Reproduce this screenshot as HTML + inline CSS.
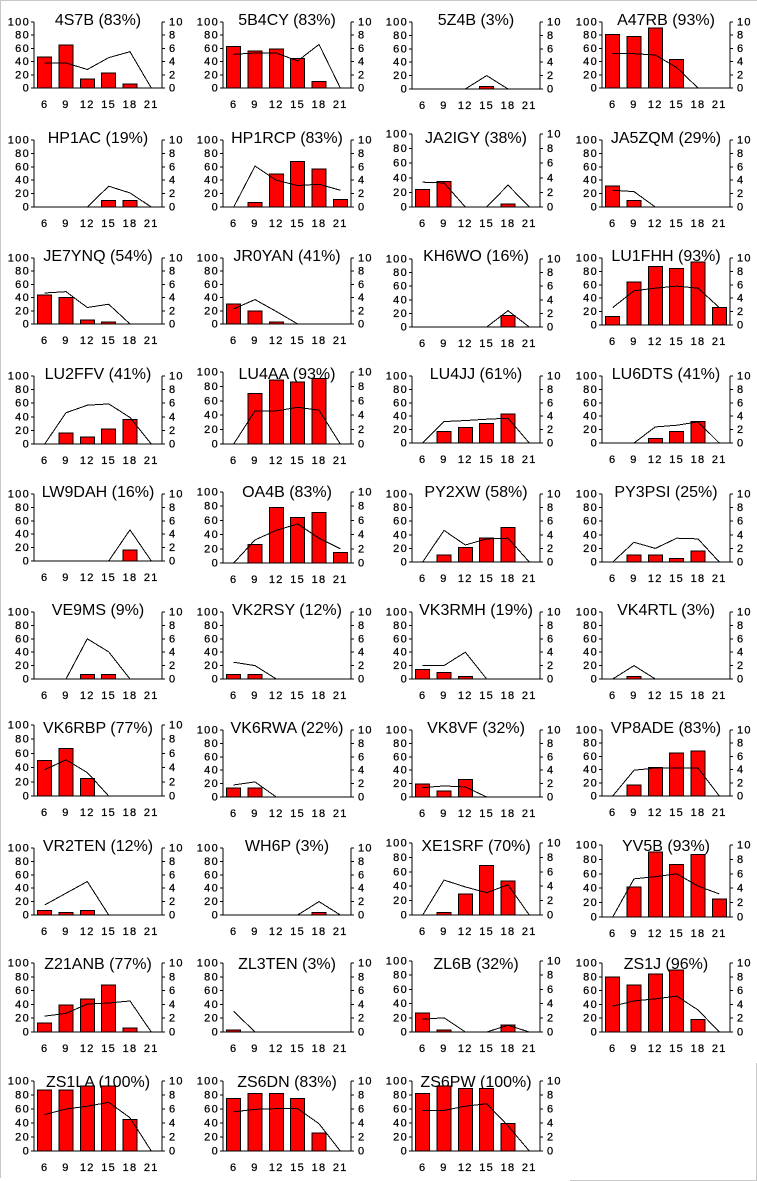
<!DOCTYPE html>
<html><head><meta charset="utf-8"><style>
html,body{margin:0;padding:0;background:#fff;}
svg{display:block;}
text{font-family:"Liberation Sans",Arial,sans-serif;fill:#000;}
.t{font-size:16px;text-anchor:middle;}
.l text,.r text,.x text{font-size:11px;letter-spacing:1.3px;stroke:#000;stroke-width:0.25px;}
.l text{text-anchor:end;}
.x text{text-anchor:middle;}
.d path,.d rect,.d polyline{vector-effect:non-scaling-stroke;shape-rendering:crispEdges;stroke:#000;stroke-width:1;}
.d rect{fill:#f00;}
.d path,.d polyline{fill:none;}
.bd{stroke:#c8c8c8;stroke-width:1;shape-rendering:crispEdges;fill:none;}
</style></head><body>
<svg width="757" height="1181" viewBox="0 0 757 1181" xmlns="http://www.w3.org/2000/svg">
<path class="bd" d="M0 0.5H757M0.5 0V1178M756.5 1063V1180.5M570 1180.5H757"/>

<!-- Row 1 -->
<g transform="translate(0,0)">
<text class="t" x="98" y="25">4S7B (83%)</text>
<g class="l"><text x="30" y="25.5">100</text><text x="30" y="38.7">80</text><text x="30" y="51.9">60</text><text x="30" y="65.1">40</text><text x="30" y="78.3">20</text><text x="30" y="91.5">0</text></g>
<g class="r"><text x="169" y="25.5">10</text><text x="169" y="38.7">8</text><text x="169" y="51.9">6</text><text x="169" y="65.1">4</text><text x="169" y="78.3">2</text><text x="169" y="91.5">0</text></g>
<g class="x" transform="translate(0,108)"><text x="44.7">6</text><text x="66">9</text><text x="87.3">12</text><text x="108.7">15</text><text x="130">18</text><text x="151.3">21</text></g>
<g class="d" transform="translate(0,88) scale(1,-0.66)">
<path d="M34 100V0H162V100M31 0H34M31 20H34M31 40H34M31 60H34M31 80H34M31 100H34M162 0H165M162 20H165M162 40H165M162 60H165M162 80H165M162 100H165"/>
<rect x="37.7" y="0" width="14" height="47"/><rect x="59" y="0" width="14" height="65"/><rect x="80.3" y="0" width="14" height="14"/><rect x="101.7" y="0" width="14" height="23"/><rect x="123" y="0" width="14" height="6"/>
<polyline points="44.7,38 66,38 87.3,28 108.7,46 130,55 151.3,0"/>
</g></g>

<g transform="translate(189,0)">
<text class="t" x="98" y="25">5B4CY (83%)</text>
<g class="l"><text x="30" y="25.5">100</text><text x="30" y="38.7">80</text><text x="30" y="51.9">60</text><text x="30" y="65.1">40</text><text x="30" y="78.3">20</text><text x="30" y="91.5">0</text></g>
<g class="r"><text x="169" y="25.5">10</text><text x="169" y="38.7">8</text><text x="169" y="51.9">6</text><text x="169" y="65.1">4</text><text x="169" y="78.3">2</text><text x="169" y="91.5">0</text></g>
<g class="x" transform="translate(0,108)"><text x="44.7">6</text><text x="66">9</text><text x="87.3">12</text><text x="108.7">15</text><text x="130">18</text><text x="151.3">21</text></g>
<g class="d" transform="translate(0,88) scale(1,-0.66)">
<path d="M34 100V0H162V100M31 0H34M31 20H34M31 40H34M31 60H34M31 80H34M31 100H34M162 0H165M162 20H165M162 40H165M162 60H165M162 80H165M162 100H165"/>
<rect x="37.7" y="0" width="14" height="63"/><rect x="59" y="0" width="14" height="56"/><rect x="80.3" y="0" width="14" height="59"/><rect x="101.7" y="0" width="14" height="45"/><rect x="123" y="0" width="14" height="10"/>
<polyline points="44.7,51 66,53 87.3,53 108.7,41 130,66 151.3,0"/>
</g></g>

<g transform="translate(378,0)">
<text class="t" x="98" y="25">5Z4B (3%)</text>
<g class="l"><text x="30" y="25.5">100</text><text x="30" y="38.9">80</text><text x="30" y="52.3">60</text><text x="30" y="65.7">40</text><text x="30" y="79.1">20</text><text x="30" y="92.5">0</text></g>
<g class="r"><text x="169" y="25.5">10</text><text x="169" y="38.9">8</text><text x="169" y="52.3">6</text><text x="169" y="65.7">4</text><text x="169" y="79.1">2</text><text x="169" y="92.5">0</text></g>
<g class="x" transform="translate(0,109)"><text x="44.7">6</text><text x="66">9</text><text x="87.3">12</text><text x="108.7">15</text><text x="130">18</text><text x="151.3">21</text></g>
<g class="d" transform="translate(0,89) scale(1,-0.67)">
<path d="M34 100V0H162V100M31 0H34M31 20H34M31 40H34M31 60H34M31 80H34M31 100H34M162 0H165M162 20H165M162 40H165M162 60H165M162 80H165M162 100H165"/>
<rect x="101.7" y="0" width="14" height="3.5"/>
<polyline points="44.7,0 66,0 87.3,0 108.7,20 130,0 151.3,0"/>
</g></g>

<g transform="translate(568,0)">
<text class="t" x="98" y="25">A47RB (93%)</text>
<g class="l"><text x="30" y="25.5">100</text><text x="30" y="38.7">80</text><text x="30" y="51.9">60</text><text x="30" y="65.1">40</text><text x="30" y="78.3">20</text><text x="30" y="91.5">0</text></g>
<g class="r"><text x="169" y="25.5">10</text><text x="169" y="38.7">8</text><text x="169" y="51.9">6</text><text x="169" y="65.1">4</text><text x="169" y="78.3">2</text><text x="169" y="91.5">0</text></g>
<g class="x" transform="translate(0,108)"><text x="44.7">6</text><text x="66">9</text><text x="87.3">12</text><text x="108.7">15</text><text x="130">18</text><text x="151.3">21</text></g>
<g class="d" transform="translate(0,88) scale(1,-0.66)">
<path d="M34 100V0H162V100M31 0H34M31 20H34M31 40H34M31 60H34M31 80H34M31 100H34M162 0H165M162 20H165M162 40H165M162 60H165M162 80H165M162 100H165"/>
<rect x="37.7" y="0" width="14" height="81"/><rect x="59" y="0" width="14" height="78"/><rect x="80.3" y="0" width="14" height="91"/><rect x="101.7" y="0" width="14" height="43"/>
<polyline points="44.7,52 66,52 87.3,50 108.7,31 130,0 151.3,0"/>
</g></g>

<!-- Row 2 -->
<g transform="translate(0,118)">
<text class="t" x="98" y="25">HP1AC (19%)</text>
<g class="l"><text x="30" y="25.5">100</text><text x="30" y="38.9">80</text><text x="30" y="52.3">60</text><text x="30" y="65.7">40</text><text x="30" y="79.1">20</text><text x="30" y="92.5">0</text></g>
<g class="r"><text x="169" y="25.5">10</text><text x="169" y="38.9">8</text><text x="169" y="52.3">6</text><text x="169" y="65.7">4</text><text x="169" y="79.1">2</text><text x="169" y="92.5">0</text></g>
<g class="x" transform="translate(0,109)"><text x="44.7">6</text><text x="66">9</text><text x="87.3">12</text><text x="108.7">15</text><text x="130">18</text><text x="151.3">21</text></g>
<g class="d" transform="translate(0,89) scale(1,-0.67)">
<path d="M34 100V0H162V100M31 0H34M31 20H34M31 40H34M31 60H34M31 80H34M31 100H34M162 0H165M162 20H165M162 40H165M162 60H165M162 80H165M162 100H165"/>
<rect x="101.7" y="0" width="14" height="10"/><rect x="123" y="0" width="14" height="10"/>
<polyline points="44.7,0 66,0 87.3,0 108.7,31 130,21 151.3,0"/>
</g></g>

<g transform="translate(189,118)">
<text class="t" x="98" y="25">HP1RCP (83%)</text>
<g class="l"><text x="30" y="25.5">100</text><text x="30" y="38.9">80</text><text x="30" y="52.3">60</text><text x="30" y="65.7">40</text><text x="30" y="79.1">20</text><text x="30" y="92.5">0</text></g>
<g class="r"><text x="169" y="25.5">10</text><text x="169" y="38.9">8</text><text x="169" y="52.3">6</text><text x="169" y="65.7">4</text><text x="169" y="79.1">2</text><text x="169" y="92.5">0</text></g>
<g class="x" transform="translate(0,109)"><text x="44.7">6</text><text x="66">9</text><text x="87.3">12</text><text x="108.7">15</text><text x="130">18</text><text x="151.3">21</text></g>
<g class="d" transform="translate(0,89) scale(1,-0.67)">
<path d="M34 100V0H162V100M31 0H34M31 20H34M31 40H34M31 60H34M31 80H34M31 100H34M162 0H165M162 20H165M162 40H165M162 60H165M162 80H165M162 100H165"/>
<rect x="59" y="0" width="14" height="7"/><rect x="80.3" y="0" width="14" height="49"/><rect x="101.7" y="0" width="14" height="68"/><rect x="123" y="0" width="14" height="57"/><rect x="144.3" y="0" width="14" height="11"/>
<polyline points="44.7,0 66,61 87.3,40 108.7,32 130,34 151.3,25"/>
</g></g>

<g transform="translate(378,118)">
<text class="t" x="98" y="25">JA2IGY (38%)</text>
<g class="l"><text x="30" y="19.5">100</text><text x="30" y="34.1">80</text><text x="30" y="48.7">60</text><text x="30" y="63.3">40</text><text x="30" y="77.9">20</text><text x="30" y="92.5">0</text></g>
<g class="r"><text x="169" y="19.5">10</text><text x="169" y="34.1">8</text><text x="169" y="48.7">6</text><text x="169" y="63.3">4</text><text x="169" y="77.9">2</text><text x="169" y="92.5">0</text></g>
<g class="x" transform="translate(0,109)"><text x="44.7">6</text><text x="66">9</text><text x="87.3">12</text><text x="108.7">15</text><text x="130">18</text><text x="151.3">21</text></g>
<g class="d" transform="translate(0,89) scale(1,-0.73)">
<path d="M34 100V0H162V100M31 0H34M31 20H34M31 40H34M31 60H34M31 80H34M31 100H34M162 0H165M162 20H165M162 40H165M162 60H165M162 80H165M162 100H165"/>
<rect x="37.7" y="0" width="14" height="24"/><rect x="59" y="0" width="14" height="35"/><rect x="123" y="0" width="14" height="4"/>
<polyline points="44.7,34 66,33 87.3,0 108.7,0 130,30 151.3,0"/>
</g></g>

<g transform="translate(568,118)">
<text class="t" x="98" y="25">JA5ZQM (29%)</text>
<g class="l"><text x="30" y="25.5">100</text><text x="30" y="38.9">80</text><text x="30" y="52.3">60</text><text x="30" y="65.7">40</text><text x="30" y="79.1">20</text><text x="30" y="92.5">0</text></g>
<g class="r"><text x="169" y="25.5">10</text><text x="169" y="38.9">8</text><text x="169" y="52.3">6</text><text x="169" y="65.7">4</text><text x="169" y="79.1">2</text><text x="169" y="92.5">0</text></g>
<g class="x" transform="translate(0,109)"><text x="44.7">6</text><text x="66">9</text><text x="87.3">12</text><text x="108.7">15</text><text x="130">18</text><text x="151.3">21</text></g>
<g class="d" transform="translate(0,89) scale(1,-0.67)">
<path d="M34 100V0H162V100M31 0H34M31 20H34M31 40H34M31 60H34M31 80H34M31 100H34M162 0H165M162 20H165M162 40H165M162 60H165M162 80H165M162 100H165"/>
<rect x="37.7" y="0" width="14" height="31"/><rect x="59" y="0" width="14" height="10"/>
<polyline points="44.7,25 66,23 87.3,0 108.7,0 130,0 151.3,0"/>
</g></g>

<!-- Row 3 -->
<g transform="translate(0,236)">
<text class="t" x="98" y="25">JE7YNQ (54%)</text>
<g class="l"><text x="30" y="25.5">100</text><text x="30" y="38.7">80</text><text x="30" y="51.9">60</text><text x="30" y="65.1">40</text><text x="30" y="78.3">20</text><text x="30" y="91.5">0</text></g>
<g class="r"><text x="169" y="25.5">10</text><text x="169" y="38.7">8</text><text x="169" y="51.9">6</text><text x="169" y="65.1">4</text><text x="169" y="78.3">2</text><text x="169" y="91.5">0</text></g>
<g class="x" transform="translate(0,108)"><text x="44.7">6</text><text x="66">9</text><text x="87.3">12</text><text x="108.7">15</text><text x="130">18</text><text x="151.3">21</text></g>
<g class="d" transform="translate(0,88) scale(1,-0.66)">
<path d="M34 100V0H162V100M31 0H34M31 20H34M31 40H34M31 60H34M31 80H34M31 100H34M162 0H165M162 20H165M162 40H165M162 60H165M162 80H165M162 100H165"/>
<rect x="37.7" y="0" width="14" height="44"/><rect x="59" y="0" width="14" height="40"/><rect x="80.3" y="0" width="14" height="6"/><rect x="101.7" y="0" width="14" height="3"/>
<polyline points="44.7,47 66,49 87.3,25 108.7,30 130,0 151.3,0"/>
</g></g>

<g transform="translate(189,236)">
<text class="t" x="98" y="25">JR0YAN (41%)</text>
<g class="l"><text x="30" y="25.5">100</text><text x="30" y="38.7">80</text><text x="30" y="51.9">60</text><text x="30" y="65.1">40</text><text x="30" y="78.3">20</text><text x="30" y="91.5">0</text></g>
<g class="r"><text x="169" y="25.5">10</text><text x="169" y="38.7">8</text><text x="169" y="51.9">6</text><text x="169" y="65.1">4</text><text x="169" y="78.3">2</text><text x="169" y="91.5">0</text></g>
<g class="x" transform="translate(0,108)"><text x="44.7">6</text><text x="66">9</text><text x="87.3">12</text><text x="108.7">15</text><text x="130">18</text><text x="151.3">21</text></g>
<g class="d" transform="translate(0,88) scale(1,-0.66)">
<path d="M34 100V0H162V100M31 0H34M31 20H34M31 40H34M31 60H34M31 80H34M31 100H34M162 0H165M162 20H165M162 40H165M162 60H165M162 80H165M162 100H165"/>
<rect x="37.7" y="0" width="14" height="30"/><rect x="59" y="0" width="14" height="20"/><rect x="80.3" y="0" width="14" height="3"/>
<polyline points="44.7,23 66,37 87.3,19 108.7,0 130,0 151.3,0"/>
</g></g>

<g transform="translate(378,236)">
<text class="t" x="98" y="25">KH6WO (16%)</text>
<g class="l"><text x="30" y="26.5">100</text><text x="30" y="40.1">80</text><text x="30" y="53.7">60</text><text x="30" y="67.3">40</text><text x="30" y="80.9">20</text><text x="30" y="94.5">0</text></g>
<g class="r"><text x="169" y="26.5">10</text><text x="169" y="40.1">8</text><text x="169" y="53.7">6</text><text x="169" y="67.3">4</text><text x="169" y="80.9">2</text><text x="169" y="94.5">0</text></g>
<g class="x" transform="translate(0,111)"><text x="44.7">6</text><text x="66">9</text><text x="87.3">12</text><text x="108.7">15</text><text x="130">18</text><text x="151.3">21</text></g>
<g class="d" transform="translate(0,91) scale(1,-0.68)">
<path d="M34 100V0H162V100M31 0H34M31 20H34M31 40H34M31 60H34M31 80H34M31 100H34M162 0H165M162 20H165M162 40H165M162 60H165M162 80H165M162 100H165"/>
<rect x="123" y="0" width="14" height="17"/>
<polyline points="44.7,0 66,0 87.3,0 108.7,0 130,24 151.3,0"/>
</g></g>

<g transform="translate(568,236)">
<text class="t" x="98" y="25">LU1FHH (93%)</text>
<g class="l"><text x="30" y="25.5">100</text><text x="30" y="38.9">80</text><text x="30" y="52.3">60</text><text x="30" y="65.7">40</text><text x="30" y="79.1">20</text><text x="30" y="92.5">0</text></g>
<g class="r"><text x="169" y="25.5">10</text><text x="169" y="38.9">8</text><text x="169" y="52.3">6</text><text x="169" y="65.7">4</text><text x="169" y="79.1">2</text><text x="169" y="92.5">0</text></g>
<g class="x" transform="translate(0,109)"><text x="44.7">6</text><text x="66">9</text><text x="87.3">12</text><text x="108.7">15</text><text x="130">18</text><text x="151.3">21</text></g>
<g class="d" transform="translate(0,89) scale(1,-0.67)">
<path d="M34 100V0H162V100M31 0H34M31 20H34M31 40H34M31 60H34M31 80H34M31 100H34M162 0H165M162 20H165M162 40H165M162 60H165M162 80H165M162 100H165"/>
<rect x="37.7" y="0" width="14" height="13"/><rect x="59" y="0" width="14" height="64"/><rect x="80.3" y="0" width="14" height="87"/><rect x="101.7" y="0" width="14" height="84"/><rect x="123" y="0" width="14" height="94"/><rect x="144.3" y="0" width="14" height="26"/>
<polyline points="44.7,26 66,51 87.3,55 108.7,58 130,55 151.3,26"/>
</g></g>

<!-- Row 4 -->
<g transform="translate(0,354)">
<text class="t" x="98" y="25">LU2FFV (41%)</text>
<g class="l"><text x="30" y="25.5">100</text><text x="30" y="39.1">80</text><text x="30" y="52.7">60</text><text x="30" y="66.3">40</text><text x="30" y="79.9">20</text><text x="30" y="93.5">0</text></g>
<g class="r"><text x="169" y="25.5">10</text><text x="169" y="39.1">8</text><text x="169" y="52.7">6</text><text x="169" y="66.3">4</text><text x="169" y="79.9">2</text><text x="169" y="93.5">0</text></g>
<g class="x" transform="translate(0,110)"><text x="44.7">6</text><text x="66">9</text><text x="87.3">12</text><text x="108.7">15</text><text x="130">18</text><text x="151.3">21</text></g>
<g class="d" transform="translate(0,90) scale(1,-0.68)">
<path d="M34 100V0H162V100M31 0H34M31 20H34M31 40H34M31 60H34M31 80H34M31 100H34M162 0H165M162 20H165M162 40H165M162 60H165M162 80H165M162 100H165"/>
<rect x="59" y="0" width="14" height="16"/><rect x="80.3" y="0" width="14" height="10"/><rect x="101.7" y="0" width="14" height="22"/><rect x="123" y="0" width="14" height="36"/>
<polyline points="44.7,0 66,46 87.3,57 108.7,59 130,39 151.3,0"/>
</g></g>

<g transform="translate(189,354)">
<text class="t" x="98" y="25">LU4AA (93%)</text>
<g class="l"><text x="30" y="21.5">100</text><text x="30" y="35.9">80</text><text x="30" y="50.3">60</text><text x="30" y="64.7">40</text><text x="30" y="79.1">20</text><text x="30" y="93.5">0</text></g>
<g class="r"><text x="169" y="21.5">10</text><text x="169" y="35.9">8</text><text x="169" y="50.3">6</text><text x="169" y="64.7">4</text><text x="169" y="79.1">2</text><text x="169" y="93.5">0</text></g>
<g class="x" transform="translate(0,110)"><text x="44.7">6</text><text x="66">9</text><text x="87.3">12</text><text x="108.7">15</text><text x="130">18</text><text x="151.3">21</text></g>
<g class="d" transform="translate(0,90) scale(1,-0.72)">
<path d="M34 100V0H162V100M31 0H34M31 20H34M31 40H34M31 60H34M31 80H34M31 100H34M162 0H165M162 20H165M162 40H165M162 60H165M162 80H165M162 100H165"/>
<rect x="59" y="0" width="14" height="70"/><rect x="80.3" y="0" width="14" height="89"/><rect x="101.7" y="0" width="14" height="86"/><rect x="123" y="0" width="14" height="91"/>
<polyline points="44.7,0 66,46 87.3,46 108.7,51 130,47 151.3,0"/>
</g></g>

<g transform="translate(378,354)">
<text class="t" x="98" y="25">LU4JJ (61%)</text>
<g class="l"><text x="30" y="25.5">100</text><text x="30" y="38.9">80</text><text x="30" y="52.3">60</text><text x="30" y="65.7">40</text><text x="30" y="79.1">20</text><text x="30" y="92.5">0</text></g>
<g class="r"><text x="169" y="25.5">10</text><text x="169" y="38.9">8</text><text x="169" y="52.3">6</text><text x="169" y="65.7">4</text><text x="169" y="79.1">2</text><text x="169" y="92.5">0</text></g>
<g class="x" transform="translate(0,109)"><text x="44.7">6</text><text x="66">9</text><text x="87.3">12</text><text x="108.7">15</text><text x="130">18</text><text x="151.3">21</text></g>
<g class="d" transform="translate(0,89) scale(1,-0.67)">
<path d="M34 100V0H162V100M31 0H34M31 20H34M31 40H34M31 60H34M31 80H34M31 100H34M162 0H165M162 20H165M162 40H165M162 60H165M162 80H165M162 100H165"/>
<rect x="59" y="0" width="14" height="17"/><rect x="80.3" y="0" width="14" height="23"/><rect x="101.7" y="0" width="14" height="29"/><rect x="123" y="0" width="14" height="43"/>
<polyline points="44.7,0 66,32 87.3,33.5 108.7,35.5 130,37 151.3,0"/>
</g></g>

<g transform="translate(568,354)">
<text class="t" x="98" y="25">LU6DTS (41%)</text>
<g class="l"><text x="30" y="25.5">100</text><text x="30" y="38.9">80</text><text x="30" y="52.3">60</text><text x="30" y="65.7">40</text><text x="30" y="79.1">20</text><text x="30" y="92.5">0</text></g>
<g class="r"><text x="169" y="25.5">10</text><text x="169" y="38.9">8</text><text x="169" y="52.3">6</text><text x="169" y="65.7">4</text><text x="169" y="79.1">2</text><text x="169" y="92.5">0</text></g>
<g class="x" transform="translate(0,109)"><text x="44.7">6</text><text x="66">9</text><text x="87.3">12</text><text x="108.7">15</text><text x="130">18</text><text x="151.3">21</text></g>
<g class="d" transform="translate(0,89) scale(1,-0.67)">
<path d="M34 100V0H162V100M31 0H34M31 20H34M31 40H34M31 60H34M31 80H34M31 100H34M162 0H165M162 20H165M162 40H165M162 60H165M162 80H165M162 100H165"/>
<rect x="80.3" y="0" width="14" height="6.5"/><rect x="101.7" y="0" width="14" height="17"/><rect x="123" y="0" width="14" height="32"/>
<polyline points="44.7,0 66,0 87.3,24 108.7,26.5 130,31.5 151.3,0"/>
</g></g>

<!-- Row 5 -->
<g transform="translate(0,472)">
<text class="t" x="98" y="25">LW9DAH (16%)</text>
<g class="l"><text x="30" y="25.5">100</text><text x="30" y="38.9">80</text><text x="30" y="52.3">60</text><text x="30" y="65.7">40</text><text x="30" y="79.1">20</text><text x="30" y="92.5">0</text></g>
<g class="r"><text x="169" y="25.5">10</text><text x="169" y="38.9">8</text><text x="169" y="52.3">6</text><text x="169" y="65.7">4</text><text x="169" y="79.1">2</text><text x="169" y="92.5">0</text></g>
<g class="x" transform="translate(0,109)"><text x="44.7">6</text><text x="66">9</text><text x="87.3">12</text><text x="108.7">15</text><text x="130">18</text><text x="151.3">21</text></g>
<g class="d" transform="translate(0,89) scale(1,-0.67)">
<path d="M34 100V0H162V100M31 0H34M31 20H34M31 40H34M31 60H34M31 80H34M31 100H34M162 0H165M162 20H165M162 40H165M162 60H165M162 80H165M162 100H165"/>
<rect x="123" y="0" width="14" height="16.5"/>
<polyline points="44.7,0 66,0 87.3,0 108.7,0 130,46.5 151.3,0"/>
</g></g>

<g transform="translate(189,472)">
<text class="t" x="98" y="25">OA4B (83%)</text>
<g class="l"><text x="30" y="23.5">100</text><text x="30" y="37.7">80</text><text x="30" y="51.9">60</text><text x="30" y="66.1">40</text><text x="30" y="80.3">20</text><text x="30" y="94.5">0</text></g>
<g class="r"><text x="169" y="23.5">10</text><text x="169" y="37.7">8</text><text x="169" y="51.9">6</text><text x="169" y="66.1">4</text><text x="169" y="80.3">2</text><text x="169" y="94.5">0</text></g>
<g class="x" transform="translate(0,111)"><text x="44.7">6</text><text x="66">9</text><text x="87.3">12</text><text x="108.7">15</text><text x="130">18</text><text x="151.3">21</text></g>
<g class="d" transform="translate(0,91) scale(1,-0.71)">
<path d="M34 100V0H162V100M31 0H34M31 20H34M31 40H34M31 60H34M31 80H34M31 100H34M162 0H165M162 20H165M162 40H165M162 60H165M162 80H165M162 100H165"/>
<rect x="59" y="0" width="14" height="26"/><rect x="80.3" y="0" width="14" height="78"/><rect x="101.7" y="0" width="14" height="64"/><rect x="123" y="0" width="14" height="71"/><rect x="144.3" y="0" width="14" height="15"/>
<polyline points="44.7,0 66,32.5 87.3,46 108.7,55 130,35 151.3,20"/>
</g></g>

<g transform="translate(378,472)">
<text class="t" x="98" y="25">PY2XW (58%)</text>
<g class="l"><text x="30" y="25.5">100</text><text x="30" y="39.1">80</text><text x="30" y="52.7">60</text><text x="30" y="66.3">40</text><text x="30" y="79.9">20</text><text x="30" y="93.5">0</text></g>
<g class="r"><text x="169" y="25.5">10</text><text x="169" y="39.1">8</text><text x="169" y="52.7">6</text><text x="169" y="66.3">4</text><text x="169" y="79.9">2</text><text x="169" y="93.5">0</text></g>
<g class="x" transform="translate(0,110)"><text x="44.7">6</text><text x="66">9</text><text x="87.3">12</text><text x="108.7">15</text><text x="130">18</text><text x="151.3">21</text></g>
<g class="d" transform="translate(0,90) scale(1,-0.68)">
<path d="M34 100V0H162V100M31 0H34M31 20H34M31 40H34M31 60H34M31 80H34M31 100H34M162 0H165M162 20H165M162 40H165M162 60H165M162 80H165M162 100H165"/>
<rect x="59" y="0" width="14" height="10"/><rect x="80.3" y="0" width="14" height="21"/><rect x="101.7" y="0" width="14" height="35"/><rect x="123" y="0" width="14" height="51"/>
<polyline points="44.7,0 66,46.5 87.3,25 108.7,34 130,35 151.3,0"/>
</g></g>

<g transform="translate(568,472)">
<text class="t" x="98" y="25">PY3PSI (25%)</text>
<g class="l"><text x="30" y="25.5">100</text><text x="30" y="39.1">80</text><text x="30" y="52.7">60</text><text x="30" y="66.3">40</text><text x="30" y="79.9">20</text><text x="30" y="93.5">0</text></g>
<g class="r"><text x="169" y="25.5">10</text><text x="169" y="39.1">8</text><text x="169" y="52.7">6</text><text x="169" y="66.3">4</text><text x="169" y="79.9">2</text><text x="169" y="93.5">0</text></g>
<g class="x" transform="translate(0,110)"><text x="44.7">6</text><text x="66">9</text><text x="87.3">12</text><text x="108.7">15</text><text x="130">18</text><text x="151.3">21</text></g>
<g class="d" transform="translate(0,90) scale(1,-0.68)">
<path d="M34 100V0H162V100M31 0H34M31 20H34M31 40H34M31 60H34M31 80H34M31 100H34M162 0H165M162 20H165M162 40H165M162 60H165M162 80H165M162 100H165"/>
<rect x="59" y="0" width="14" height="10"/><rect x="80.3" y="0" width="14" height="10"/><rect x="101.7" y="0" width="14" height="5.5"/><rect x="123" y="0" width="14" height="16"/>
<polyline points="44.7,0 66,29 87.3,20 108.7,35 130,34 151.3,0"/>
</g></g>

<!-- Row 6 -->
<g transform="translate(0,590)">
<text class="t" x="98" y="25">VE9MS (9%)</text>
<g class="l"><text x="30" y="25.5">100</text><text x="30" y="38.9">80</text><text x="30" y="52.3">60</text><text x="30" y="65.7">40</text><text x="30" y="79.1">20</text><text x="30" y="92.5">0</text></g>
<g class="r"><text x="169" y="25.5">10</text><text x="169" y="38.9">8</text><text x="169" y="52.3">6</text><text x="169" y="65.7">4</text><text x="169" y="79.1">2</text><text x="169" y="92.5">0</text></g>
<g class="x" transform="translate(0,109)"><text x="44.7">6</text><text x="66">9</text><text x="87.3">12</text><text x="108.7">15</text><text x="130">18</text><text x="151.3">21</text></g>
<g class="d" transform="translate(0,89) scale(1,-0.67)">
<path d="M34 100V0H162V100M31 0H34M31 20H34M31 40H34M31 60H34M31 80H34M31 100H34M162 0H165M162 20H165M162 40H165M162 60H165M162 80H165M162 100H165"/>
<rect x="80.3" y="0" width="14" height="6.5"/><rect x="101.7" y="0" width="14" height="6.5"/>
<polyline points="44.7,0 66,0 87.3,60 108.7,40.5 130,0 151.3,0"/>
</g></g>

<g transform="translate(189,590)">
<text class="t" x="98" y="25">VK2RSY (12%)</text>
<g class="l"><text x="30" y="25.5">100</text><text x="30" y="38.9">80</text><text x="30" y="52.3">60</text><text x="30" y="65.7">40</text><text x="30" y="79.1">20</text><text x="30" y="92.5">0</text></g>
<g class="r"><text x="169" y="25.5">10</text><text x="169" y="38.9">8</text><text x="169" y="52.3">6</text><text x="169" y="65.7">4</text><text x="169" y="79.1">2</text><text x="169" y="92.5">0</text></g>
<g class="x" transform="translate(0,109)"><text x="44.7">6</text><text x="66">9</text><text x="87.3">12</text><text x="108.7">15</text><text x="130">18</text><text x="151.3">21</text></g>
<g class="d" transform="translate(0,89) scale(1,-0.67)">
<path d="M34 100V0H162V100M31 0H34M31 20H34M31 40H34M31 60H34M31 80H34M31 100H34M162 0H165M162 20H165M162 40H165M162 60H165M162 80H165M162 100H165"/>
<rect x="37.7" y="0" width="14" height="6.5"/><rect x="59" y="0" width="14" height="6.5"/>
<polyline points="44.7,25 66,20 87.3,0 108.7,0 130,0 151.3,0"/>
</g></g>

<g transform="translate(378,590)">
<text class="t" x="98" y="25">VK3RMH (19%)</text>
<g class="l"><text x="30" y="25.5">100</text><text x="30" y="38.9">80</text><text x="30" y="52.3">60</text><text x="30" y="65.7">40</text><text x="30" y="79.1">20</text><text x="30" y="92.5">0</text></g>
<g class="r"><text x="169" y="25.5">10</text><text x="169" y="38.9">8</text><text x="169" y="52.3">6</text><text x="169" y="65.7">4</text><text x="169" y="79.1">2</text><text x="169" y="92.5">0</text></g>
<g class="x" transform="translate(0,109)"><text x="44.7">6</text><text x="66">9</text><text x="87.3">12</text><text x="108.7">15</text><text x="130">18</text><text x="151.3">21</text></g>
<g class="d" transform="translate(0,89) scale(1,-0.67)">
<path d="M34 100V0H162V100M31 0H34M31 20H34M31 40H34M31 60H34M31 80H34M31 100H34M162 0H165M162 20H165M162 40H165M162 60H165M162 80H165M162 100H165"/>
<rect x="37.7" y="0" width="14" height="14"/><rect x="59" y="0" width="14" height="9.5"/><rect x="80.3" y="0" width="14" height="3.5"/>
<polyline points="44.7,20 66,20 87.3,40 108.7,0 130,0 151.3,0"/>
</g></g>

<g transform="translate(568,590)">
<text class="t" x="98" y="25">VK4RTL (3%)</text>
<g class="l"><text x="30" y="25.5">100</text><text x="30" y="38.9">80</text><text x="30" y="52.3">60</text><text x="30" y="65.7">40</text><text x="30" y="79.1">20</text><text x="30" y="92.5">0</text></g>
<g class="r"><text x="169" y="25.5">10</text><text x="169" y="38.9">8</text><text x="169" y="52.3">6</text><text x="169" y="65.7">4</text><text x="169" y="79.1">2</text><text x="169" y="92.5">0</text></g>
<g class="x" transform="translate(0,109)"><text x="44.7">6</text><text x="66">9</text><text x="87.3">12</text><text x="108.7">15</text><text x="130">18</text><text x="151.3">21</text></g>
<g class="d" transform="translate(0,89) scale(1,-0.67)">
<path d="M34 100V0H162V100M31 0H34M31 20H34M31 40H34M31 60H34M31 80H34M31 100H34M162 0H165M162 20H165M162 40H165M162 60H165M162 80H165M162 100H165"/>
<rect x="59" y="0" width="14" height="3.5"/>
<polyline points="44.7,0 66,20 87.3,0 108.7,0 130,0 151.3,0"/>
</g></g>

<!-- Row 7 -->
<g transform="translate(0,708)">
<text class="t" x="98" y="25">VK6RBP (77%)</text>
<g class="l"><text x="30" y="20.5">100</text><text x="30" y="34.7">80</text><text x="30" y="48.9">60</text><text x="30" y="63.1">40</text><text x="30" y="77.3">20</text><text x="30" y="91.5">0</text></g>
<g class="r"><text x="169" y="20.5">10</text><text x="169" y="34.7">8</text><text x="169" y="48.9">6</text><text x="169" y="63.1">4</text><text x="169" y="77.3">2</text><text x="169" y="91.5">0</text></g>
<g class="x" transform="translate(0,108)"><text x="44.7">6</text><text x="66">9</text><text x="87.3">12</text><text x="108.7">15</text><text x="130">18</text><text x="151.3">21</text></g>
<g class="d" transform="translate(0,88) scale(1,-0.71)">
<path d="M34 100V0H162V100M31 0H34M31 20H34M31 40H34M31 60H34M31 80H34M31 100H34M162 0H165M162 20H165M162 40H165M162 60H165M162 80H165M162 100H165"/>
<rect x="37.7" y="0" width="14" height="50"/><rect x="59" y="0" width="14" height="67"/><rect x="80.3" y="0" width="14" height="25"/>
<polyline points="44.7,37 66,51 87.3,33 108.7,0 130,0 151.3,0"/>
</g></g>

<g transform="translate(189,708)">
<text class="t" x="98" y="25">VK6RWA (22%)</text>
<g class="l"><text x="30" y="25.5">100</text><text x="30" y="38.9">80</text><text x="30" y="52.3">60</text><text x="30" y="65.7">40</text><text x="30" y="79.1">20</text><text x="30" y="92.5">0</text></g>
<g class="r"><text x="169" y="25.5">10</text><text x="169" y="38.9">8</text><text x="169" y="52.3">6</text><text x="169" y="65.7">4</text><text x="169" y="79.1">2</text><text x="169" y="92.5">0</text></g>
<g class="x" transform="translate(0,109)"><text x="44.7">6</text><text x="66">9</text><text x="87.3">12</text><text x="108.7">15</text><text x="130">18</text><text x="151.3">21</text></g>
<g class="d" transform="translate(0,89) scale(1,-0.67)">
<path d="M34 100V0H162V100M31 0H34M31 20H34M31 40H34M31 60H34M31 80H34M31 100H34M162 0H165M162 20H165M162 40H165M162 60H165M162 80H165M162 100H165"/>
<rect x="37.7" y="0" width="14" height="13.5"/><rect x="59" y="0" width="14" height="13.5"/>
<polyline points="44.7,18 66,22.5 87.3,0 108.7,0 130,0 151.3,0"/>
</g></g>

<g transform="translate(378,708)">
<text class="t" x="98" y="25">VK8VF (32%)</text>
<g class="l"><text x="30" y="25.5">100</text><text x="30" y="38.9">80</text><text x="30" y="52.3">60</text><text x="30" y="65.7">40</text><text x="30" y="79.1">20</text><text x="30" y="92.5">0</text></g>
<g class="r"><text x="169" y="25.5">10</text><text x="169" y="38.9">8</text><text x="169" y="52.3">6</text><text x="169" y="65.7">4</text><text x="169" y="79.1">2</text><text x="169" y="92.5">0</text></g>
<g class="x" transform="translate(0,109)"><text x="44.7">6</text><text x="66">9</text><text x="87.3">12</text><text x="108.7">15</text><text x="130">18</text><text x="151.3">21</text></g>
<g class="d" transform="translate(0,89) scale(1,-0.67)">
<path d="M34 100V0H162V100M31 0H34M31 20H34M31 40H34M31 60H34M31 80H34M31 100H34M162 0H165M162 20H165M162 40H165M162 60H165M162 80H165M162 100H165"/>
<rect x="37.7" y="0" width="14" height="19.5"/><rect x="59" y="0" width="14" height="9"/><rect x="80.3" y="0" width="14" height="26"/>
<polyline points="44.7,14 66,16.5 87.3,15 108.7,0 130,0 151.3,0"/>
</g></g>

<g transform="translate(568,708)">
<text class="t" x="98" y="25">VP8ADE (83%)</text>
<g class="l"><text x="30" y="25.5">100</text><text x="30" y="38.7">80</text><text x="30" y="51.9">60</text><text x="30" y="65.1">40</text><text x="30" y="78.3">20</text><text x="30" y="91.5">0</text></g>
<g class="r"><text x="169" y="25.5">10</text><text x="169" y="38.7">8</text><text x="169" y="51.9">6</text><text x="169" y="65.1">4</text><text x="169" y="78.3">2</text><text x="169" y="91.5">0</text></g>
<g class="x" transform="translate(0,108)"><text x="44.7">6</text><text x="66">9</text><text x="87.3">12</text><text x="108.7">15</text><text x="130">18</text><text x="151.3">21</text></g>
<g class="d" transform="translate(0,88) scale(1,-0.66)">
<path d="M34 100V0H162V100M31 0H34M31 20H34M31 40H34M31 60H34M31 80H34M31 100H34M162 0H165M162 20H165M162 40H165M162 60H165M162 80H165M162 100H165"/>
<rect x="59" y="0" width="14" height="17"/><rect x="80.3" y="0" width="14" height="43"/><rect x="101.7" y="0" width="14" height="65"/><rect x="123" y="0" width="14" height="68"/>
<polyline points="44.7,0 66,39 87.3,42.5 108.7,42.5 130,42.5 151.3,0"/>
</g></g>

<!-- Row 8 -->
<g transform="translate(0,826)">
<text class="t" x="98" y="25">VR2TEN (12%)</text>
<g class="l"><text x="30" y="25.5">100</text><text x="30" y="38.9">80</text><text x="30" y="52.3">60</text><text x="30" y="65.7">40</text><text x="30" y="79.1">20</text><text x="30" y="92.5">0</text></g>
<g class="r"><text x="169" y="25.5">10</text><text x="169" y="38.9">8</text><text x="169" y="52.3">6</text><text x="169" y="65.7">4</text><text x="169" y="79.1">2</text><text x="169" y="92.5">0</text></g>
<g class="x" transform="translate(0,109)"><text x="44.7">6</text><text x="66">9</text><text x="87.3">12</text><text x="108.7">15</text><text x="130">18</text><text x="151.3">21</text></g>
<g class="d" transform="translate(0,89) scale(1,-0.67)">
<path d="M34 100V0H162V100M31 0H34M31 20H34M31 40H34M31 60H34M31 80H34M31 100H34M162 0H165M162 20H165M162 40H165M162 60H165M162 80H165M162 100H165"/>
<rect x="37.7" y="0" width="14" height="7"/><rect x="59" y="0" width="14" height="4"/><rect x="80.3" y="0" width="14" height="7"/>
<polyline points="44.7,15 66,32.5 87.3,50 108.7,0 130,0 151.3,0"/>
</g></g>

<g transform="translate(189,826)">
<text class="t" x="98" y="25">WH6P (3%)</text>
<g class="l"><text x="30" y="25.5">100</text><text x="30" y="38.9">80</text><text x="30" y="52.3">60</text><text x="30" y="65.7">40</text><text x="30" y="79.1">20</text><text x="30" y="92.5">0</text></g>
<g class="r"><text x="169" y="25.5">10</text><text x="169" y="38.9">8</text><text x="169" y="52.3">6</text><text x="169" y="65.7">4</text><text x="169" y="79.1">2</text><text x="169" y="92.5">0</text></g>
<g class="x" transform="translate(0,109)"><text x="44.7">6</text><text x="66">9</text><text x="87.3">12</text><text x="108.7">15</text><text x="130">18</text><text x="151.3">21</text></g>
<g class="d" transform="translate(0,89) scale(1,-0.67)">
<path d="M34 100V0H162V100M31 0H34M31 20H34M31 40H34M31 60H34M31 80H34M31 100H34M162 0H165M162 20H165M162 40H165M162 60H165M162 80H165M162 100H165"/>
<rect x="123" y="0" width="14" height="4"/>
<polyline points="44.7,0 66,0 87.3,0 108.7,0 130,20 151.3,0"/>
</g></g>

<g transform="translate(378,826)">
<text class="t" x="98" y="25">XE1SRF (70%)</text>
<g class="l"><text x="30" y="20.5">100</text><text x="30" y="34.9">80</text><text x="30" y="49.3">60</text><text x="30" y="63.7">40</text><text x="30" y="78.1">20</text><text x="30" y="92.5">0</text></g>
<g class="r"><text x="169" y="20.5">10</text><text x="169" y="34.9">8</text><text x="169" y="49.3">6</text><text x="169" y="63.7">4</text><text x="169" y="78.1">2</text><text x="169" y="92.5">0</text></g>
<g class="x" transform="translate(0,109)"><text x="44.7">6</text><text x="66">9</text><text x="87.3">12</text><text x="108.7">15</text><text x="130">18</text><text x="151.3">21</text></g>
<g class="d" transform="translate(0,89) scale(1,-0.72)">
<path d="M34 100V0H162V100M31 0H34M31 20H34M31 40H34M31 60H34M31 80H34M31 100H34M162 0H165M162 20H165M162 40H165M162 60H165M162 80H165M162 100H165"/>
<rect x="59" y="0" width="14" height="3.7"/><rect x="80.3" y="0" width="14" height="29"/><rect x="101.7" y="0" width="14" height="69"/><rect x="123" y="0" width="14" height="47"/>
<polyline points="44.7,0 66,48.5 87.3,39 108.7,31 130,42 151.3,0"/>
</g></g>

<g transform="translate(568,826)">
<text class="t" x="98" y="25">YV5B (93%)</text>
<g class="l"><text x="30" y="22.5">100</text><text x="30" y="36.9">80</text><text x="30" y="51.3">60</text><text x="30" y="65.7">40</text><text x="30" y="80.1">20</text><text x="30" y="94.5">0</text></g>
<g class="r"><text x="169" y="22.5">10</text><text x="169" y="36.9">8</text><text x="169" y="51.3">6</text><text x="169" y="65.7">4</text><text x="169" y="80.1">2</text><text x="169" y="94.5">0</text></g>
<g class="x" transform="translate(0,111)"><text x="44.7">6</text><text x="66">9</text><text x="87.3">12</text><text x="108.7">15</text><text x="130">18</text><text x="151.3">21</text></g>
<g class="d" transform="translate(0,91) scale(1,-0.72)">
<path d="M34 100V0H162V100M31 0H34M31 20H34M31 40H34M31 60H34M31 80H34M31 100H34M162 0H165M162 20H165M162 40H165M162 60H165M162 80H165M162 100H165"/>
<rect x="59" y="0" width="14" height="42"/><rect x="80.3" y="0" width="14" height="90"/><rect x="101.7" y="0" width="14" height="73"/><rect x="123" y="0" width="14" height="87"/><rect x="144.3" y="0" width="14" height="25"/>
<polyline points="44.7,0 66,53 87.3,56 108.7,60 130,43 151.3,32"/>
</g></g>

<!-- Row 9 -->
<g transform="translate(0,944)">
<text class="t" x="98" y="25">Z21ANB (77%)</text>
<g class="l"><text x="30" y="22.5">100</text><text x="30" y="36.3">80</text><text x="30" y="50.1">60</text><text x="30" y="63.9">40</text><text x="30" y="77.7">20</text><text x="30" y="91.5">0</text></g>
<g class="r"><text x="169" y="22.5">10</text><text x="169" y="36.3">8</text><text x="169" y="50.1">6</text><text x="169" y="63.9">4</text><text x="169" y="77.7">2</text><text x="169" y="91.5">0</text></g>
<g class="x" transform="translate(0,108)"><text x="44.7">6</text><text x="66">9</text><text x="87.3">12</text><text x="108.7">15</text><text x="130">18</text><text x="151.3">21</text></g>
<g class="d" transform="translate(0,88) scale(1,-0.69)">
<path d="M34 100V0H162V100M31 0H34M31 20H34M31 40H34M31 60H34M31 80H34M31 100H34M162 0H165M162 20H165M162 40H165M162 60H165M162 80H165M162 100H165"/>
<rect x="37.7" y="0" width="14" height="13"/><rect x="59" y="0" width="14" height="39"/><rect x="80.3" y="0" width="14" height="48"/><rect x="101.7" y="0" width="14" height="68"/><rect x="123" y="0" width="14" height="6"/>
<polyline points="44.7,23 66,27 87.3,40.5 108.7,42 130,45 151.3,0"/>
</g></g>

<g transform="translate(189,944)">
<text class="t" x="98" y="25">ZL3TEN (3%)</text>
<g class="l"><text x="30" y="22.5">100</text><text x="30" y="36.3">80</text><text x="30" y="50.1">60</text><text x="30" y="63.9">40</text><text x="30" y="77.7">20</text><text x="30" y="91.5">0</text></g>
<g class="r"><text x="169" y="22.5">10</text><text x="169" y="36.3">8</text><text x="169" y="50.1">6</text><text x="169" y="63.9">4</text><text x="169" y="77.7">2</text><text x="169" y="91.5">0</text></g>
<g class="x" transform="translate(0,108)"><text x="44.7">6</text><text x="66">9</text><text x="87.3">12</text><text x="108.7">15</text><text x="130">18</text><text x="151.3">21</text></g>
<g class="d" transform="translate(0,88) scale(1,-0.69)">
<path d="M34 100V0H162V100M31 0H34M31 20H34M31 40H34M31 60H34M31 80H34M31 100H34M162 0H165M162 20H165M162 40H165M162 60H165M162 80H165M162 100H165"/>
<rect x="37.7" y="0" width="14" height="3"/>
<polyline points="44.7,30 66,0 87.3,0 108.7,0 130,0 151.3,0"/>
</g></g>

<g transform="translate(378,944)">
<text class="t" x="98" y="25">ZL6B (32%)</text>
<g class="l"><text x="30" y="20.5">100</text><text x="30" y="34.7">80</text><text x="30" y="48.9">60</text><text x="30" y="63.1">40</text><text x="30" y="77.3">20</text><text x="30" y="91.5">0</text></g>
<g class="r"><text x="169" y="20.5">10</text><text x="169" y="34.7">8</text><text x="169" y="48.9">6</text><text x="169" y="63.1">4</text><text x="169" y="77.3">2</text><text x="169" y="91.5">0</text></g>
<g class="x" transform="translate(0,108)"><text x="44.7">6</text><text x="66">9</text><text x="87.3">12</text><text x="108.7">15</text><text x="130">18</text><text x="151.3">21</text></g>
<g class="d" transform="translate(0,88) scale(1,-0.71)">
<path d="M34 100V0H162V100M31 0H34M31 20H34M31 40H34M31 60H34M31 80H34M31 100H34M162 0H165M162 20H165M162 40H165M162 60H165M162 80H165M162 100H165"/>
<rect x="37.7" y="0" width="14" height="27"/><rect x="59" y="0" width="14" height="3"/><rect x="123" y="0" width="14" height="10"/>
<polyline points="44.7,18 66,20 87.3,0 108.7,0 130,9.5 151.3,0"/>
</g></g>

<g transform="translate(568,944)">
<text class="t" x="98" y="25">ZS1J (96%)</text>
<g class="l"><text x="30" y="22.5">100</text><text x="30" y="36.3">80</text><text x="30" y="50.1">60</text><text x="30" y="63.9">40</text><text x="30" y="77.7">20</text><text x="30" y="91.5">0</text></g>
<g class="r"><text x="169" y="22.5">10</text><text x="169" y="36.3">8</text><text x="169" y="50.1">6</text><text x="169" y="63.9">4</text><text x="169" y="77.7">2</text><text x="169" y="91.5">0</text></g>
<g class="x" transform="translate(0,108)"><text x="44.7">6</text><text x="66">9</text><text x="87.3">12</text><text x="108.7">15</text><text x="130">18</text><text x="151.3">21</text></g>
<g class="d" transform="translate(0,88) scale(1,-0.69)">
<path d="M34 100V0H162V100M31 0H34M31 20H34M31 40H34M31 60H34M31 80H34M31 100H34M162 0H165M162 20H165M162 40H165M162 60H165M162 80H165M162 100H165"/>
<rect x="37.7" y="0" width="14" height="80"/><rect x="59" y="0" width="14" height="68"/><rect x="80.3" y="0" width="14" height="84"/><rect x="101.7" y="0" width="14" height="90"/><rect x="123" y="0" width="14" height="18"/>
<polyline points="44.7,37.5 66,45 87.3,48 108.7,52 130,32 151.3,0"/>
</g></g>

<!-- Row 10 -->
<g transform="translate(0,1062)">
<text class="t" x="98" y="25">ZS1LA (100%)</text>
<g class="l"><text x="30" y="22.5">100</text><text x="30" y="36.5">80</text><text x="30" y="50.5">60</text><text x="30" y="64.5">40</text><text x="30" y="78.5">20</text><text x="30" y="92.5">0</text></g>
<g class="r"><text x="169" y="22.5">10</text><text x="169" y="36.5">8</text><text x="169" y="50.5">6</text><text x="169" y="64.5">4</text><text x="169" y="78.5">2</text><text x="169" y="92.5">0</text></g>
<g class="x" transform="translate(0,109)"><text x="44.7">6</text><text x="66">9</text><text x="87.3">12</text><text x="108.7">15</text><text x="130">18</text><text x="151.3">21</text></g>
<g class="d" transform="translate(0,89) scale(1,-0.70)">
<path d="M34 100V0H162V100M31 0H34M31 20H34M31 40H34M31 60H34M31 80H34M31 100H34M162 0H165M162 20H165M162 40H165M162 60H165M162 80H165M162 100H165"/>
<rect x="37.7" y="0" width="14" height="87"/><rect x="59" y="0" width="14" height="87"/><rect x="80.3" y="0" width="14" height="93"/><rect x="101.7" y="0" width="14" height="93"/><rect x="123" y="0" width="14" height="45"/>
<polyline points="44.7,52 66,60 87.3,64 108.7,69.5 130,47.5 151.3,0"/>
</g></g>

<g transform="translate(189,1062)">
<text class="t" x="98" y="25">ZS6DN (83%)</text>
<g class="l"><text x="30" y="22.5">100</text><text x="30" y="36.5">80</text><text x="30" y="50.5">60</text><text x="30" y="64.5">40</text><text x="30" y="78.5">20</text><text x="30" y="92.5">0</text></g>
<g class="r"><text x="169" y="22.5">10</text><text x="169" y="36.5">8</text><text x="169" y="50.5">6</text><text x="169" y="64.5">4</text><text x="169" y="78.5">2</text><text x="169" y="92.5">0</text></g>
<g class="x" transform="translate(0,109)"><text x="44.7">6</text><text x="66">9</text><text x="87.3">12</text><text x="108.7">15</text><text x="130">18</text><text x="151.3">21</text></g>
<g class="d" transform="translate(0,89) scale(1,-0.70)">
<path d="M34 100V0H162V100M31 0H34M31 20H34M31 40H34M31 60H34M31 80H34M31 100H34M162 0H165M162 20H165M162 40H165M162 60H165M162 80H165M162 100H165"/>
<rect x="37.7" y="0" width="14" height="75"/><rect x="59" y="0" width="14" height="82"/><rect x="80.3" y="0" width="14" height="82"/><rect x="101.7" y="0" width="14" height="75"/><rect x="123" y="0" width="14" height="26"/>
<polyline points="44.7,56 66,59.5 87.3,60.5 108.7,60.5 130,39 151.3,0"/>
</g></g>

<g transform="translate(378,1062)">
<text class="t" x="98" y="25">ZS6PW (100%)</text>
<g class="l"><text x="30" y="22.5">100</text><text x="30" y="36.5">80</text><text x="30" y="50.5">60</text><text x="30" y="64.5">40</text><text x="30" y="78.5">20</text><text x="30" y="92.5">0</text></g>
<g class="r"><text x="169" y="22.5">10</text><text x="169" y="36.5">8</text><text x="169" y="50.5">6</text><text x="169" y="64.5">4</text><text x="169" y="78.5">2</text><text x="169" y="92.5">0</text></g>
<g class="x" transform="translate(0,109)"><text x="44.7">6</text><text x="66">9</text><text x="87.3">12</text><text x="108.7">15</text><text x="130">18</text><text x="151.3">21</text></g>
<g class="d" transform="translate(0,89) scale(1,-0.70)">
<path d="M34 100V0H162V100M31 0H34M31 20H34M31 40H34M31 60H34M31 80H34M31 100H34M162 0H165M162 20H165M162 40H165M162 60H165M162 80H165M162 100H165"/>
<rect x="37.7" y="0" width="14" height="82"/><rect x="59" y="0" width="14" height="93"/><rect x="80.3" y="0" width="14" height="89"/><rect x="101.7" y="0" width="14" height="89"/><rect x="123" y="0" width="14" height="39"/>
<polyline points="44.7,58 66,58 87.3,64 108.7,67.5 130,36 151.3,0"/>
</g></g>

</svg>
</body></html>
